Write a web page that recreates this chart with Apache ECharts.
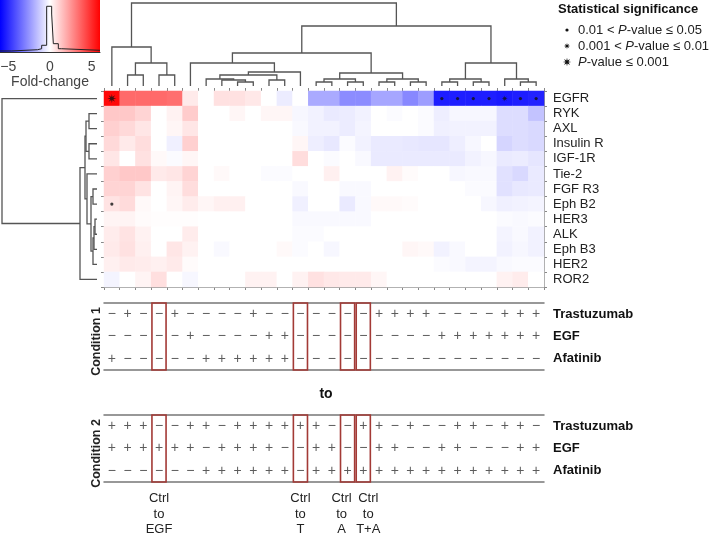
<!DOCTYPE html>
<html><head><meta charset="utf-8">
<script src="https://cdn.jsdelivr.net/npm/echarts@6/dist/echarts.min.js"></script>
<style>html,body{margin:0;padding:0;background:#fff}#c{width:709px;height:533px}</style>
</head><body><div id="c"></div>
<script>
// ---------------- DATA ----------------
const genes = ['EGFR','RYK','AXL','Insulin R','IGF-1R','Tie-2','FGF R3','Eph B2','HER3','ALK','Eph B3','HER2','ROR2'];
const columns = ['1','2','3','4','5','6','7','8','9','10','11','12','13','14','15','16','17','18','19','20','21','22','23','24','25','26','27','28'];
const foldEGFR    = [5.8,3.5,3.5,3.5,3.4,0.5,0,0.7,0.7,0.55,0,-0.45,0,-2.0,-2.0,-2.7,-2.7,-2.1,-2.1,-2.8,-2.3,-5.3,-5.3,-5.3,-5.3,-5.4,-5.3,-5.2];
const foldRYK     = [1.3,1.3,1.0,0,0.3,1.2,0,0,0.2,0,0.2,0.2,-0.2,-0.3,-0.5,-0.45,-0.3,0,-0.1,0,-0.1,-0.4,-0.2,-0.2,-0.2,-0.8,-0.8,-1.4];
const foldAXL     = [1.1,0.9,0.6,0,0.2,0.6,0,0,0,0,0,0,-0.15,-0.3,-0.3,-0.45,-0.25,0,0,0,-0.1,-0.35,-0.3,-0.3,-0.3,-0.8,-0.8,-0.9];
const foldInsR    = [0.9,0.5,0.8,0,-0.35,1.1,0,0,0,0,0,0,0.2,-0.4,-0.55,-0.1,-0.3,-0.5,-0.5,-0.55,-0.6,-0.6,-0.4,-0.2,0,-1.0,-0.8,-0.9];
const foldIGF1R   = [0.6,0,0.7,0.15,-0.1,0.2,0,0,0,0,0,0,0.8,0,-0.1,0,-0.15,-0.5,-0.5,-0.5,-0.5,-0.5,-0.5,-0.3,-0.2,-0.5,-0.45,-0.6];
const foldTie2    = [1.1,1.3,1.3,0.5,0.6,1.0,0,0.15,0,0,-0.1,-0.1,0,0,0.35,0,0,0,0.3,0.1,0,0,-0.2,-0.15,-0.15,-0.7,-0.9,-0.5];
const foldFGFR3   = [1.0,1.0,0.65,0,0.25,0.8,0,0,0,0,0,0,-0.15,0,0,-0.15,-0.15,0,0,0,0,0,0,-0.1,-0.1,-0.7,-0.55,-0.5];
const foldEphB2   = [0.65,0.85,0.15,0,0.2,0.45,0.2,0.35,0.35,0,0,0,-0.35,0,0,-0.5,-0.15,0.15,0.15,0.1,0,0,0,0,-0.2,-0.35,-0.3,-0.25];
const foldHER3    = [0.25,0.25,0.1,0.05,0.05,0.05,0,0,0,0,0,0,-0.15,-0.15,-0.15,-0.15,-0.15,0,0,0,0,0,0,0,0,-0.1,-0.15,-0.1];
const foldALK     = [0.45,0.65,0.3,0,0,0.45,0,0,0,0,0,0,-0.1,-0.1,0,0,0,0,0,0,0,0,0,0,0,-0.25,-0.15,-0.3];
const foldEphB3   = [0.5,0.7,0.35,0,0.6,0.3,0,-0.15,0,0,0,0.15,-0.1,0,-0.2,0,0,0,0,0.2,0.15,-0.3,-0.15,0,0,-0.3,-0.2,-0.3];
const foldHER2    = [0.35,0.5,0.45,0.35,0.5,0.1,0,0,0,0,0,0,0,0,0,0,0,0,0,0,0,-0.1,-0.15,-0.25,-0.25,-0.15,-0.1,-0.1];
const foldROR2    = [-0.25,0,0.25,0.75,0,-0.2,0,0,0,0.3,0.3,0,0.3,0.7,0.55,0.5,0.5,0.2,0,0,0,0,0,0,0,0.3,0.45,0];
const foldRows = [foldEGFR,foldRYK,foldAXL,foldInsR,foldIGF1R,foldTie2,foldFGFR3,foldEphB2,foldHER3,foldALK,foldEphB3,foldHER2,foldROR2];
// significance: [column, row, level] level 1: 0.01<P<=0.05, 2: 0.001<P<=0.01, 3: P<=0.001
const significance = [[0,0,3],[21,0,1],[22,0,1],[23,0,1],[24,0,1],[25,0,2],[26,0,1],[27,0,1],[0,7,1]];
// column dendrogram linkage [childA, childB, height]
const colLinkage = [[1,2,11],[3,4,11],[28,29,23],[0,30,39],
  [8,9,4],[7,32,6],[6,33,7],[10,11,6],[34,35,11],[36,12,14],[5,37,23],
  [13,14,4],[15,16,4],[39,40,7],[17,18,4],[19,20,4],[42,43,7],[41,44,13],[38,45,33],
  [21,22,4],[23,24,4],[47,48,7],[26,27,4],[25,50,7],[49,51,23],[46,52,60],[31,53,83]];
// row dendrogram linkage
const rowLinkage = [[1,2,8],[3,4,8],[13,14,11],[8,9,2],[16,10,3],[17,11,4],[6,7,4],[19,18,6],[5,20,10],[15,21,12],[22,12,17],[0,23,95]];
const treatments = ['Trastuzumab','EGF','Afatinib'];
const cond1Signs = ['-+--+----+-------++++----+++','-----+----++---------+++++++','+-----++++++----------------'];
const cond2Signs = ['+++--++-++++++--++-+--++-++-','++++++-++++--++--++--++---++','------++++++-+++++++++++++++'];
const highlightCols = [3,12,15,16];
const highlightLabels = [['Ctrl','to','EGF'],['Ctrl','to','T'],['Ctrl','to','A'],['Ctrl','to','T+A']];
const colorbarTicks = [-5,0,5];
const histEdges = [-6,-4.6,-1.5,-1.0,-0.4,0.2,0.4,1.0,1.4,6];
const histHeights = [2,4.4,6.3,12.9,87.9,73,16,6.3,3.3];

// ---------------- BUILD ----------------
const FF = '"Liberation Sans", Arial, Helvetica, sans-serif';
const heatData = [];
foldRows.forEach((row,r)=>row.forEach((v,c)=>heatData.push([c,r,v])));

function dendroSegments(linkage, n){
  const pos=[], ht=[]; for(let i=0;i<n;i++){pos[i]=i+0.5;ht[i]=0;}
  const segs=[];
  linkage.forEach((m,k)=>{const [a,b,h]=m;const id=n+k;segs.push([pos[a],ht[a],pos[b],ht[b],h]);pos[id]=(pos[a]+pos[b])/2;ht[id]=h;});
  return segs;
}
const colSegs = dendroSegments(colLinkage, columns.length);
const rowSegs = dendroSegments(rowLinkage, genes.length);

function starPts(cx,cy,R,r){const p=[];for(let k=0;k<16;k++){const a=k*Math.PI/8-Math.PI/2;const rr=k%2?r:R;p.push([cx+rr*Math.cos(a),cy+rr*Math.sin(a)]);}return p;}
const starPath = 'path://' + starPts(10,10,10,3.6).map((p,i)=>(i?'L':'M')+p[0].toFixed(2)+' '+p[1].toFixed(2)).join(' ') + 'Z';

function signData(signs){const d=[];signs.forEach((s,r)=>s.split('').forEach((ch,c)=>d.push([c,r,ch])));return d;}
// label styles: adjacent labels (A, T+A) nudged apart as in the figure
const labelStyleFor = {15:'l',16:'r'};
const labelMap = {};
highlightCols.forEach((c,i)=>{const st=labelStyleFor[c]||'n';labelMap[c]=highlightLabels[i].map(t=>'{'+st+'|'+t+'}').join('\n');});
const histData = histEdges.map((e,i)=>[e, histHeights[Math.min(i,histHeights.length-1)]]);

const lineCol = '#555';
function catX(grid, pos, extra){return Object.assign({type:'category',gridIndex:grid,data:columns,position:pos,
  axisLine:{show:true,lineStyle:{color:'#999',width:1}},axisTick:{show:true,interval:0,length:3,inside:false,lineStyle:{color:'#888'}},axisLabel:{show:false},splitLine:{show:false}},extra||{});}
function condX(grid,pos,extra){return Object.assign({type:'category',gridIndex:grid,data:columns,position:pos,
  axisLine:{show:true,onZero:false,lineStyle:{color:'#777',width:1.5}},axisTick:{show:false},axisLabel:{show:false},splitLine:{show:false}},extra||{});}
const richLab = {
  n:{fontSize:13,lineHeight:15.5,color:'#222',fontFamily:FF},
  l:{fontSize:13,lineHeight:15.5,color:'#222',fontFamily:FF,padding:[0,12,0,0]},
  r:{fontSize:13,lineHeight:15.5,color:'#222',fontFamily:FF,padding:[0,0,0,10]}
};
function G(o){return Object.assign({outerBoundsMode:'none',containLabel:false},o);}

const option = {
  animation:false,
  textStyle:{fontFamily:FF},
  grid:[
    G({left:104,top:91,width:440,height:196}),
    G({left:104,top:0,width:440,height:86}),
    G({left:0,top:0,width:100,height:52}),
    G({left:0,top:91,width:97,height:196}),
    G({left:104,top:303,width:440,height:67}),
    G({left:104,top:415,width:440,height:67})
  ],
  xAxis:[
    catX(0,'bottom'),
    catX(0,'top'),
    {type:'value',gridIndex:1,min:0,max:28,show:false},
    {type:'value',gridIndex:2,min:-6,max:6,position:'bottom',
      axisLine:{show:true,onZero:false,lineStyle:{color:'#333',width:1}},axisTick:{show:false},splitLine:{show:false},
      axisLabel:{customValues:colorbarTicks,fontSize:14,color:'#444',margin:8,formatter:v=>v<0?'\u2212'+Math.abs(v):String(v)},
      name:'Fold-change',nameLocation:'middle',nameGap:23,nameTextStyle:{fontSize:14,color:'#444'}},
    {type:'value',gridIndex:3,min:0,max:97,inverse:true,show:false},
    condX(4,'bottom'),
    condX(4,'top'),
    condX(5,'bottom',{axisLabel:{show:true,interval:0,margin:9,formatter:(v,i)=>labelMap[i]||'',rich:richLab}}),
    condX(5,'top')
  ],
  yAxis:[
    {type:'category',gridIndex:0,data:genes,inverse:true,position:'left',axisLine:{show:true,lineStyle:{color:'#999'}},axisTick:{show:true,interval:0,length:3,lineStyle:{color:'#888'}},axisLabel:{show:false}},
    {type:'category',gridIndex:0,data:genes,inverse:true,position:'right',axisLine:{show:true,lineStyle:{color:'#999'}},axisTick:{show:true,interval:0,length:3,lineStyle:{color:'#888'}},axisLabel:{interval:0,fontSize:13,color:'#222',margin:9}},
    {type:'value',gridIndex:1,min:0,max:86,show:false},
    {type:'value',gridIndex:2,min:0,max:100,show:false},
    {type:'value',gridIndex:3,min:0,max:13,inverse:true,show:false},
    {type:'category',gridIndex:4,data:treatments,inverse:true,position:'left',axisLine:{show:false},axisTick:{show:false},axisLabel:{show:false},
      name:'Condition 1',nameLocation:'middle',nameRotate:90,nameGap:1,nameTextStyle:{fontSize:12.5,fontWeight:'bold',color:'#222',padding:[0,10,0,0]}},
    {type:'category',gridIndex:4,data:treatments,inverse:true,position:'right',axisLine:{show:false},axisTick:{show:false},axisLabel:{interval:0,fontSize:13,fontWeight:'bold',color:'#111',margin:9}},
    {type:'category',gridIndex:5,data:treatments,inverse:true,position:'left',axisLine:{show:false},axisTick:{show:false},axisLabel:{show:false},
      name:'Condition 2',nameLocation:'middle',nameRotate:90,nameGap:1,nameTextStyle:{fontSize:12.5,fontWeight:'bold',color:'#222',padding:[0,10,0,0]}},
    {type:'category',gridIndex:5,data:treatments,inverse:true,position:'right',axisLine:{show:false},axisTick:{show:false},axisLabel:{interval:0,fontSize:13,fontWeight:'bold',color:'#111',margin:9}}
  ],
  visualMap:[{type:'continuous',min:-6,max:6,dimension:2,seriesIndex:0,show:false,inRange:{color:['#0000ff','#ffffff','#ff0000']}}],
  series:[
    {type:'heatmap',xAxisIndex:0,yAxisIndex:0,data:heatData,itemStyle:{borderWidth:0},emphasis:{disabled:true}},
    {type:'scatter',xAxisIndex:0,yAxisIndex:0,data:significance,z:5,
      symbol:v=>v[2]===1?'circle':starPath,symbolSize:v=>[0,3.2,6,9][v[2]],itemStyle:{color:'#111'}},
    {type:'custom',xAxisIndex:2,yAxisIndex:2,data:colSegs,renderItem:(p,api)=>{
      const pl=api.value(0),hl=api.value(1),pr=api.value(2),hr=api.value(3),h=api.value(4);
      return {type:'polyline',shape:{points:[api.coord([pl,hl]),api.coord([pl,h]),api.coord([pr,h]),api.coord([pr,hr])]},style:{stroke:lineCol,lineWidth:1.3,fill:null}};}},
    {type:'custom',xAxisIndex:4,yAxisIndex:4,data:rowSegs,renderItem:(p,api)=>{
      const pl=api.value(0),hl=api.value(1),pr=api.value(2),hr=api.value(3),h=api.value(4);
      return {type:'polyline',shape:{points:[api.coord([hl,pl]),api.coord([h,pl]),api.coord([h,pr]),api.coord([hr,pr])]},style:{stroke:lineCol,lineWidth:1.3,fill:null}};}},
    {type:'custom',xAxisIndex:3,yAxisIndex:3,data:[[-6,6]],z:1,renderItem:(p,api)=>{
      const a=api.coord([api.value(0),100]),b=api.coord([api.value(1),0]);
      return {type:'rect',shape:{x:a[0],y:a[1],width:b[0]-a[0],height:b[1]-a[1]},
        style:{fill:new echarts.graphic.LinearGradient(0,0,1,0,[{offset:0,color:'#0000ff'},{offset:0.5,color:'#ffffff'},{offset:1,color:'#ff0000'}])}};}},
    {type:'line',xAxisIndex:3,yAxisIndex:3,data:histData,step:'end',symbol:'none',z:3,lineStyle:{color:'#222',width:1}},
    {type:'scatter',xAxisIndex:5,yAxisIndex:5,data:signData(cond1Signs),symbolSize:0,
      label:{show:true,position:'inside',formatter:p=>p.value[2]==='+'?'+':'\u2212',fontSize:14,color:'#333'}},
    {type:'scatter',xAxisIndex:7,yAxisIndex:7,data:signData(cond2Signs),symbolSize:0,
      label:{show:true,position:'inside',formatter:p=>p.value[2]==='+'?'+':'\u2212',fontSize:14,color:'#333'}},
    {type:'custom',xAxisIndex:5,yAxisIndex:5,data:highlightCols.map(c=>[c,0]),z:4,renderItem:(p,api)=>{
      const x=api.coord([api.value(0),0])[0],w=api.size([1,0])[0],cs=p.coordSys;
      return {type:'rect',shape:{x:x-w/2+0.8,y:cs.y,width:w-1.6,height:cs.height},style:{fill:null,stroke:'#a33a36',lineWidth:1.6}};}},
    {type:'custom',xAxisIndex:7,yAxisIndex:7,data:highlightCols.map(c=>[c,0]),z:4,renderItem:(p,api)=>{
      const x=api.coord([api.value(0),0])[0],w=api.size([1,0])[0],cs=p.coordSys;
      return {type:'rect',shape:{x:x-w/2+0.8,y:cs.y,width:w-1.6,height:cs.height},style:{fill:null,stroke:'#a33a36',lineWidth:1.6}};}}
  ],
  graphic:[
    {type:'text',x:326,y:394,style:{text:'to',font:'bold 14px '+FF,fill:'#111',align:'center',verticalAlign:'middle'}},
    {type:'text',x:558,y:9,style:{text:'Statistical significance',font:'bold 13px '+FF,fill:'#111',verticalAlign:'middle'}},
    {type:'circle',shape:{cx:567,cy:30,r:1.6},style:{fill:'#111'}},
    {type:'polygon',shape:{points:starPts(567,46,3.2,1.2)},style:{fill:'#111'}},
    {type:'polygon',shape:{points:starPts(567,62,4.3,1.6)},style:{fill:'#111'}},
    {type:'text',x:578,y:30,style:{text:'0.01 < {i|P}-value \u2264 0.05',font:'13px '+FF,fill:'#222',verticalAlign:'middle',rich:{i:{fontStyle:'italic',fontSize:13,fontFamily:FF,fill:'#222'}}}},
    {type:'text',x:578,y:46,style:{text:'0.001 < {i|P}-value \u2264 0.01',font:'13px '+FF,fill:'#222',verticalAlign:'middle',rich:{i:{fontStyle:'italic',fontSize:13,fontFamily:FF,fill:'#222'}}}},
    {type:'text',x:578,y:62,style:{text:'{i|P}-value \u2264 0.001',font:'13px '+FF,fill:'#222',verticalAlign:'middle',rich:{i:{fontStyle:'italic',fontSize:13,fontFamily:FF,fill:'#222'}}}}
  ]
};
const chart = echarts.init(document.getElementById('c'));
chart.setOption(option);
</script></body></html>
